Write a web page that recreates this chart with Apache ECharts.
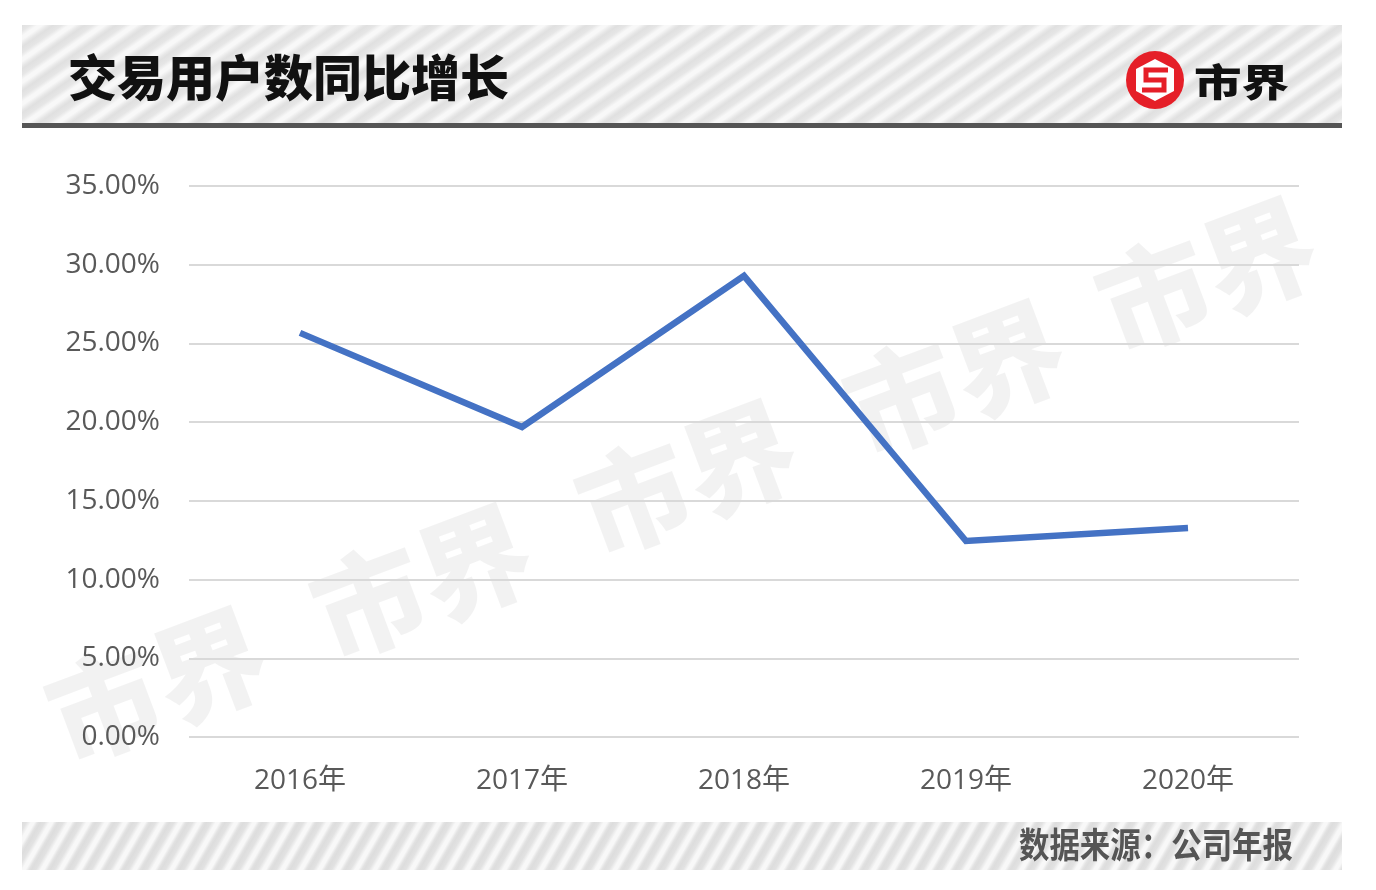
<!DOCTYPE html>
<html>
<head>
<meta charset="utf-8">
<script src="https://cdn.jsdelivr.net/npm/echarts@6/dist/echarts.min.js"></script>
<style>
html,body{margin:0;padding:0;background:#fff;}
#wrap{position:relative;width:1376px;height:890px;overflow:hidden;}
.band{position:absolute;left:22px;width:1320px;}
#head{top:25px;height:98px;background:repeating-linear-gradient(145deg,#e0e0e0 0px,#e6e6e6 5px,#f8f8f8 9px,#f8f8f8 12px,#e6e6e6 16px,#e0e0e0 18px);border-bottom:5px solid #555;}
#foot{top:822px;height:48px;background:repeating-linear-gradient(120deg,#dddddd 0px,#e2e2e2 4px,#f8f8f8 8px,#f8f8f8 11px,#e2e2e2 14px,#dddddd 16px);}
#chart{position:absolute;left:0;top:0;width:1376px;height:890px;}
</style>
</head>
<body>
<div id="wrap">
<div id="head" class="band"></div>
<div id="foot" class="band"></div>
<div id="chart"></div>
</div>
<script>
const titleText = '交易用户数同比增长';
const sourceText = '数据来源：公司年报';
const brandText = '市界';
const categories = ['2016年','2017年','2018年','2019年','2020年'];
const growth = [25.67, 19.69, 29.29, 12.45, 13.28];
const yTicks = [0, 5, 10, 15, 20, 25, 30, 35];

const chart = echarts.init(document.getElementById('chart'), null, {renderer:'canvas'});

const wmCenters = [[157,685],[422,582],[687,478],[955,378],[1207,275]];
const watermarks = wmCenters.map(c => ({
  type:'text', x:c[0], y:c[1], rotation:0.36, z:-10, silent:true,
  style:{text:brandText, font:'900 112px "Noto Sans CJK SC"', fill:'rgba(0,0,0,0.05)', align:'center', verticalAlign:'middle'}
}));

const labelFont = '"Open Sans","Noto Sans CJK SC"';

const option = {
  backgroundColor:'transparent',
  animation:false,
  grid:{left:189, right:77, top:186, bottom:153, containLabel:false},
  xAxis:{
    type:'category', data:categories, boundaryGap:true,
    axisLine:{show:false}, axisTick:{show:false},
    axisLabel:{color:'#595959', fontSize:28, fontFamily:labelFont, margin:30}
  },
  yAxis:{
    type:'value', min:yTicks[0], max:yTicks[yTicks.length-1], interval:5,
    axisLine:{show:false}, axisTick:{show:false},
    axisLabel:{color:'#595959', fontSize:28, fontFamily:labelFont, margin:29, padding:[4,0,0,0],
      formatter:v=>v.toFixed(2)+'%'},
    splitLine:{lineStyle:{color:'#d9d9d9', width:2}}
  },
  series:[{
    type:'line', data:growth, symbol:'none', z:5,
    lineStyle:{color:'#4472c4', width:6.5, join:'miter'}
  }],
  graphic:[
    ...watermarks,
    {type:'text', x:68, y:77, z:10, style:{text:titleText, font:'900 49px "Noto Sans CJK SC"', fill:'#111', verticalAlign:'middle'}},
    {type:'circle', shape:{cx:1155, cy:80, r:29}, z:10, style:{fill:'#e51f28'}},
    {type:'polygon', z:11, shape:{points:[[1155,59],[1174,69],[1174,91],[1155,101],[1136,91],[1136,69]]}, style:{fill:'#fff'}},
    {type:'polyline', z:12, shape:{points:[[1168,70],[1146,70],[1146,80],[1164,80],[1164,90],[1142,90]]}, style:{stroke:'#e51f28', lineWidth:5, fill:null}},
    {type:'text', x:1194, y:82, z:10, scaleX:1.25, style:{text:brandText, font:'900 38px "Noto Sans CJK SC"', fill:'#111', verticalAlign:'middle'}},
    {type:'text', x:1293, y:845, z:10, scaleX:0.87, style:{text:sourceText, font:'bold 35px "Noto Sans CJK SC"', fill:'#555', align:'right', verticalAlign:'middle'}}
  ]
};
chart.setOption(option);
</script>
</body>
</html>
